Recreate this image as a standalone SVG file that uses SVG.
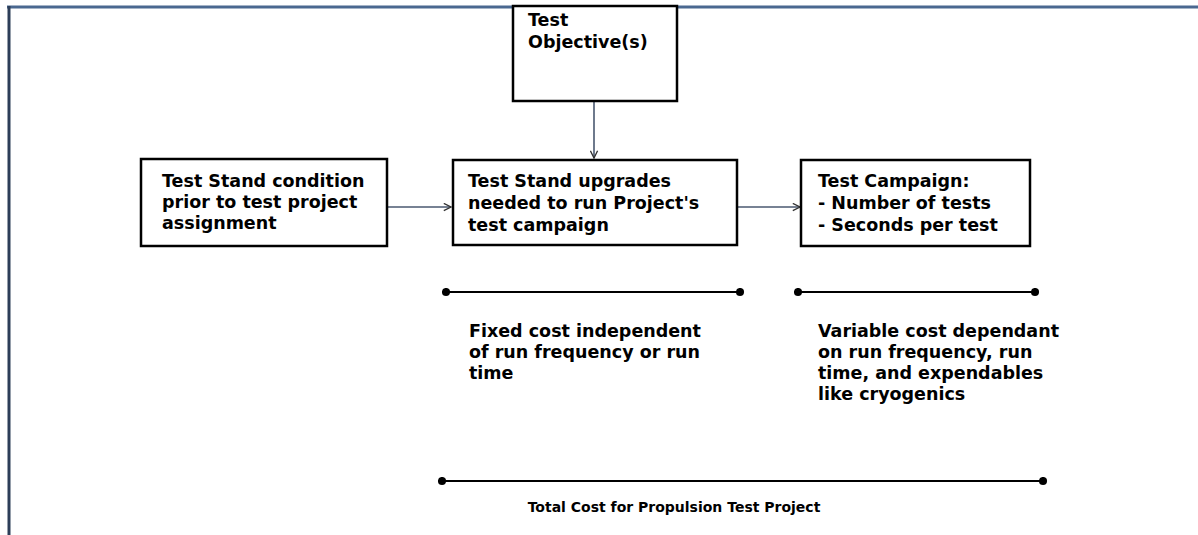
<svg xmlns="http://www.w3.org/2000/svg" width="1198" height="535" viewBox="0 0 1198 535">
<defs>
<style>
.box{fill:#fff;stroke:#000;stroke-width:2.5}
.t{font-family:"DejaVu Sans",Verdana,sans-serif;font-weight:bold;font-size:17.5px;fill:#000}
.tot{font-size:14px}
.conn{stroke:#4a5870;stroke-width:1.6;fill:none}
.dim{stroke:#000;stroke-width:2.2;fill:none}
</style>
<marker id="arr" viewBox="0 0 10 10" refX="9" refY="5" markerWidth="9" markerHeight="9" markerUnits="userSpaceOnUse" orient="auto">
<path d="M1,1 L9,5 L1,9" fill="none" stroke="#333" stroke-width="1.5"/>
</marker>
<marker id="dot" viewBox="0 0 10 10" refX="5" refY="5" markerWidth="9" markerHeight="9" markerUnits="userSpaceOnUse">
<circle cx="5" cy="5" r="4.5" fill="#000"/>
</marker>
</defs>
<rect width="1198" height="535" fill="#fff"/>
<g id="frame">
<line x1="7" y1="7" x2="1198" y2="7" stroke="#4a6890" stroke-width="3"/>
<line x1="9" y1="6" x2="9" y2="535" stroke="#2c3e58" stroke-width="3"/>
</g>
<g id="connectors">
<line class="conn" x1="388" y1="207" x2="451" y2="207" marker-end="url(#arr)"/>
<line class="conn" x1="738" y1="207" x2="800" y2="207" marker-end="url(#arr)"/>
<line class="conn" x1="594" y1="102" x2="594" y2="158" marker-end="url(#arr)"/>
<line class="dim" x1="446" y1="292" x2="740" y2="292" marker-start="url(#dot)" marker-end="url(#dot)"/>
<line class="dim" x1="798" y1="292" x2="1035" y2="292" marker-start="url(#dot)" marker-end="url(#dot)"/>
<line class="dim" x1="442" y1="481" x2="1043" y2="481" marker-start="url(#dot)" marker-end="url(#dot)"/>
</g>
<g id="objective">
<rect class="box" x="513" y="6" width="164" height="95"/>
<text class="t" x="528" y="26">Test</text>
<text class="t" x="528" y="48">Objective(s)</text>
</g>
<g id="condition">
<rect class="box" x="141" y="159" width="246" height="87"/>
<text class="t" x="162" y="187">Test Stand condition</text>
<text class="t" x="162" y="208">prior to test project</text>
<text class="t" x="162" y="229">assignment</text>
</g>
<g id="upgrades">
<rect class="box" x="453" y="160" width="284" height="85"/>
<text class="t" x="468" y="187">Test Stand upgrades</text>
<text class="t" x="468" y="209">needed to run Project's</text>
<text class="t" x="468" y="231">test campaign</text>
</g>
<g id="campaign">
<rect class="box" x="801" y="160" width="229" height="86"/>
<text class="t" x="818" y="187">Test Campaign:</text>
<text class="t" x="818" y="209">- Number of tests</text>
<text class="t" x="818" y="231">- Seconds per test</text>
</g>
<g id="fixed">
<text class="t" x="469" y="337">Fixed cost independent</text>
<text class="t" x="469" y="358">of run frequency or run</text>
<text class="t" x="469" y="379">time</text>
</g>
<g id="variable">
<text class="t" x="818" y="337">Variable cost dependant</text>
<text class="t" x="818" y="358">on run frequency, run</text>
<text class="t" x="818" y="379">time, and expendables</text>
<text class="t" x="818" y="400">like cryogenics</text>
</g>
<g id="total">
<text class="t tot" x="674" y="512" text-anchor="middle">Total Cost for Propulsion Test Project</text>
</g>
</svg>
